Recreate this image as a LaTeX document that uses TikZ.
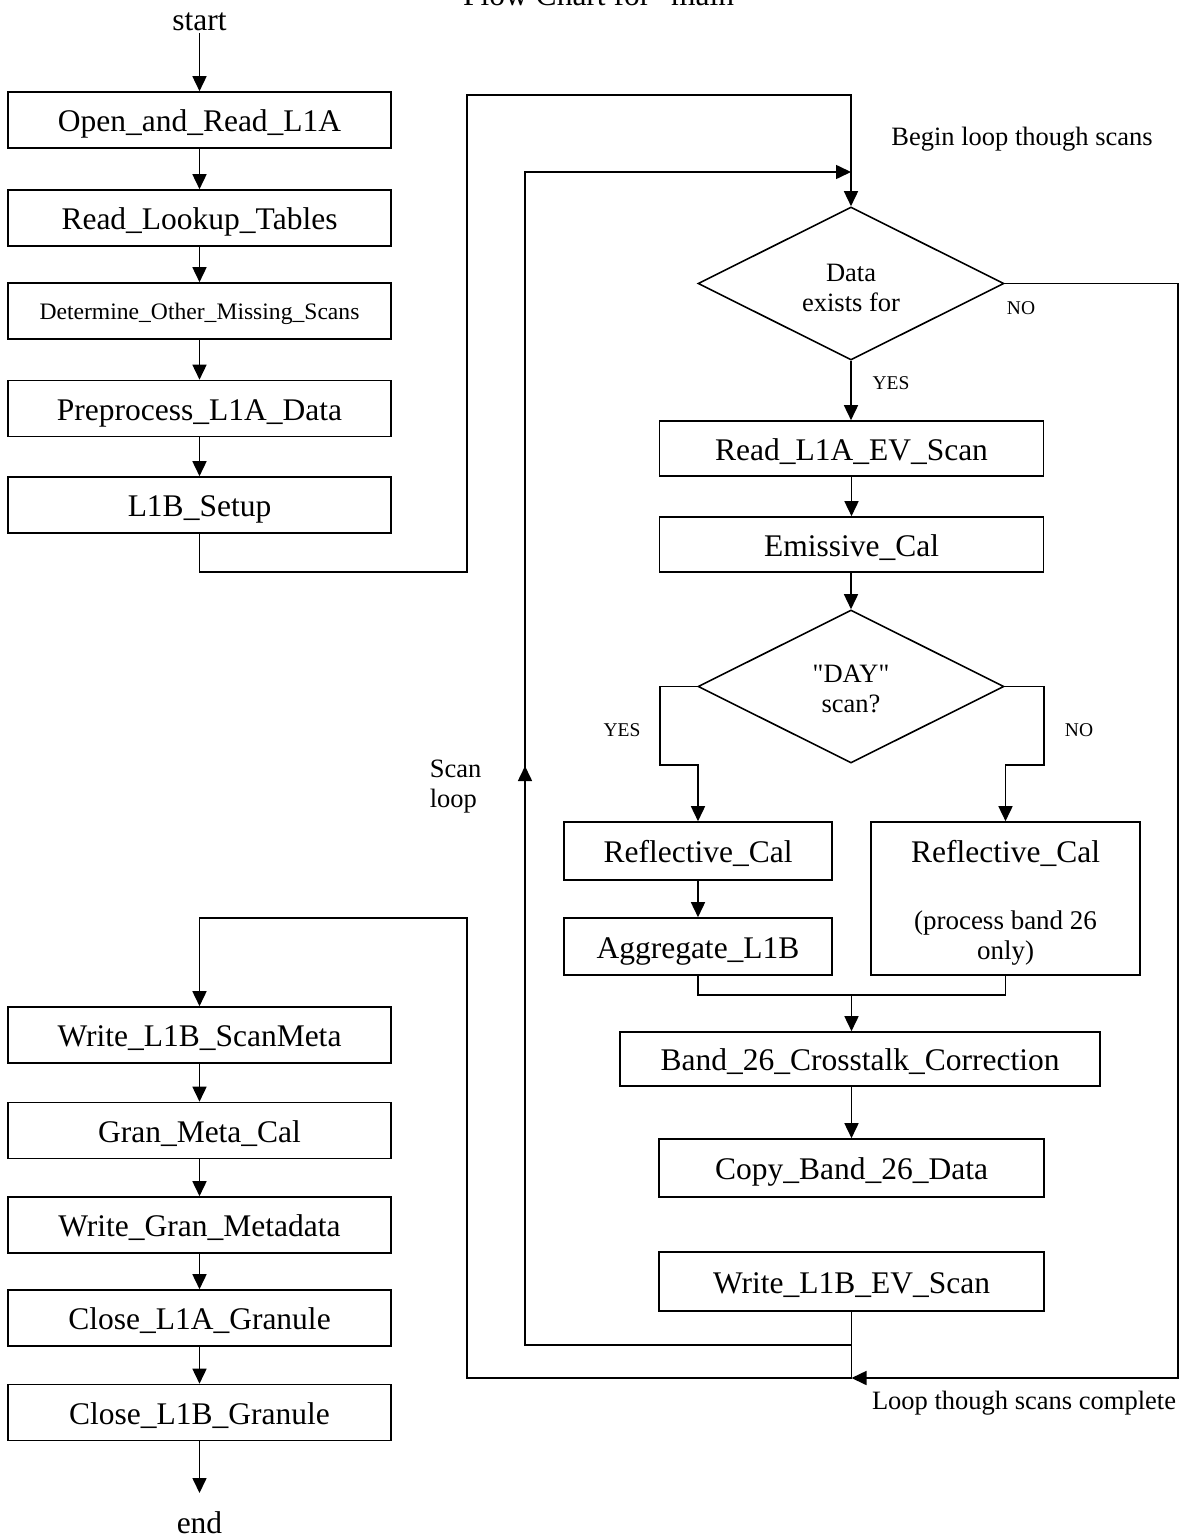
\documentclass[tikz,border=0pt]{standalone}
\usepackage{fontspec}
\setmainfont{Liberation Serif}[Ligatures=TeXOff]
\usetikzlibrary{arrows.meta,shapes.geometric}
\begin{document}
\begin{tikzpicture}[x=1pt,y=-1pt,line width=1.6pt,
  box/.style={draw, rectangle, inner sep=0pt, text height=23pt, text depth=0pt, font=\fontsize{31.5}{36}\selectfont},
  lbox/.style={box, minimum width=383pt, minimum height=56pt},
  rbox/.style={box, minimum width=384pt, minimum height=56pt},
  dia/.style={draw, diamond, inner sep=0pt, minimum width=306pt, minimum height=153pt},
  txt/.style={inner sep=1pt, font=\fontsize{31.5}{36}\selectfont},
  lbl/.style={inner sep=0pt, font=\fontsize{26.5}{30}\selectfont, align=center},
  yn/.style={inner sep=0pt, font=\fontsize{19.5}{22}\selectfont},
  arr/.style={-{Triangle[length=15pt,width=14pt]}}]
\useasboundingbox (0,0) rectangle (1185,1538);
\fill[white] (0,0) rectangle (1185,1538);

% title
\node[txt, anchor=base] (title) at (605,6) {Flow Chart for "main"};

% left column
\node[txt, anchor=base] (start) at (199.5,31) {start};
\coordinate (startfoot) at (199.5,33);
\node[lbox] (oar) at (199.5,120) {Open\_and\_Read\_L1A};
\node[lbox] (rlt) at (199.5,218) {Read\_Lookup\_Tables};
\node[lbox, font=\fontsize{23.6}{27}\selectfont, text height=17.2pt] (doms) at (199.5,311) {Determine\_Other\_Missing\_Scans};
\node[lbox] (pld) at (199.5,408.5) {Preprocess\_L1A\_Data};
\node[lbox] (l1b) at (199.5,505) {L1B\_Setup};

\node[lbox] (wsm) at (199.5,1035) {Write\_L1B\_ScanMeta};
\node[lbox] (gmc) at (199.5,1130.5) {Gran\_Meta\_Cal};
\node[lbox] (wgm) at (199.5,1225) {Write\_Gran\_Metadata};
\node[lbox] (cla) at (199.5,1318) {Close\_L1A\_Granule};
\node[lbox] (clb) at (199.5,1412.5) {Close\_L1B\_Granule};
\node[txt, anchor=base] (end) at (199.5,1533) {end};
\coordinate (endtip) at (199.5,1493);

\draw[arr] (startfoot) -- (oar);
\draw[arr] (oar) -- (rlt);
\draw[arr] (rlt) -- (doms);
\draw[arr] (doms) -- (pld);
\draw[arr] (pld) -- (l1b);
\draw[arr] (wsm) -- (gmc);
\draw[arr] (gmc) -- (wgm);
\draw[arr] (wgm) -- (cla);
\draw[arr] (cla) -- (clb);
\draw[arr] (clb) -- (endtip);

% right column
\node[dia] (d1) at (851,283.5) {};
\node[lbl] (d1t) at (851,288) {Data\\exists for};
\node[rbox, minimum height=55pt] (rev) at (851.5,448.5) {Read\_L1A\_EV\_Scan};
\node[rbox, minimum height=55pt] (emc) at (851.5,544.5) {Emissive\_Cal};
\node[dia] (d2) at (851,686.5) {};
\node[lbl] (d2t) at (851,689) {"DAY"\\scan?};
\node[box, minimum width=268pt, minimum height=58pt] (refl) at (698,851) {Reflective\_Cal};
\node[box, minimum width=268pt, minimum height=57pt] (agg) at (698,946.5) {Aggregate\_L1B};
\node[box, minimum width=269pt, minimum height=153pt] (refr) at (1005.5,898.5) {};
\node[txt, inner sep=0pt, text height=23pt, text depth=0pt] (refrt) at (1005.5,851) {Reflective\_Cal};
\node[lbl, font=\fontsize{27}{30}\selectfont] (refrs) at (1005.5,938) {(process band 26\\only)};
\node[box, minimum width=480pt, minimum height=54pt] (band) at (860,1059) {Band\_26\_Crosstalk\_Correction};
\node[rbox, minimum width=385pt, minimum height=58pt] (copy) at (851.5,1168) {Copy\_Band\_26\_Data};
\node[rbox, minimum width=385pt, minimum height=59pt] (wev) at (851.5,1281.5) {Write\_L1B\_EV\_Scan};

% labels
\node[lbl] (begin) at (1022,139) {Begin loop though scans};
\node[lbl] (lcomp) at (1024,1403) {Loop though scans complete};
\node[lbl, align=left, anchor=west] (scanloop) at (429,787) {Scan\\loop};
\node[yn] (no1) at (1021,308) {NO};
\node[yn] (yes1) at (891,383) {YES};
\node[yn] (yes2) at (622,730) {YES};
\node[yn] (no2) at (1079,730) {NO};

% connectors
\draw[arr] (l1b.south) -- (199.5,572) -- (467,572) -- (467,95) -- (851,95) -- (d1.north);
\draw[arr] (d1.south) -- (rev.north -| d1.south);
\draw[arr] (rev) -- (emc);
\draw[arr] (emc.south -| d2.north) -- (d2.north);
\draw[arr] (d2.west) -- (660,686.5) -- (660,765) -- (698,765) -- (refl.north);
\draw[arr] (d2.east) -- (1044,686.5) -- (1044,765) -- (1005.5,765) -- (refr.north);
\draw[arr] (refl) -- (agg);
\draw (agg.south) -- (698,995) -- (1005.5,995) -- (refr.south);
\coordinate (merge) at (851.5,995);
\draw[arr] (merge) -- (merge |- band.north);
\draw[arr] (copy.north |- band.south) -- (copy.north);

% scan loop
\draw (wev.south) -- (851.5,1378);
\draw[arr] (851.5,1345) -- (525,1345) -- (525,766);
\draw[arr] (525,768) -- (525,172) -- (851,172);

% loop complete
\draw[arr] (d1.east) -- (1178,283.5) -- (1178,1378) -- (851.5,1378);
\draw[arr] (851.5,1378) -- (467,1378) -- (467,918) -- (199.5,918) -- (wsm.north);
\end{tikzpicture}
\end{document}
